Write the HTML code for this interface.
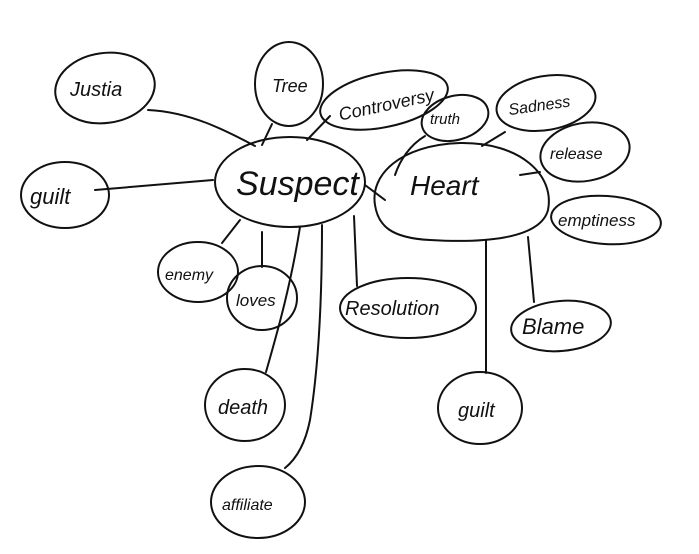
<!DOCTYPE html>
<html><head><style>
html,body{margin:0;padding:0;background:#fff;}
svg{display:block}
text{font-family:"Liberation Sans",sans-serif;fill:#111;font-style:italic}
</style></head><body>
<svg width="699" height="554" viewBox="0 0 699 554" xmlns="http://www.w3.org/2000/svg">
<g fill="none" stroke="#111" stroke-width="2" stroke-linecap="round">
<ellipse cx="105" cy="88" rx="50" ry="35" transform="rotate(-8 105 88)"/>
<ellipse cx="289" cy="84" rx="34" ry="42"/>
<ellipse cx="384" cy="100" rx="65" ry="27" transform="rotate(-12 384 100)"/>
<ellipse cx="455" cy="118" rx="34" ry="22" transform="rotate(-15 455 118)"/>
<ellipse cx="546" cy="103" rx="50" ry="27" transform="rotate(-10 546 103)"/>
<ellipse cx="290" cy="182" rx="75" ry="45"/>
<path d="M375 205 C370 175 400 145 460 143 C520 142 555 175 548 210 C540 240 480 243 430 240 C390 238 378 225 375 205 Z"/>
<ellipse cx="585" cy="152" rx="45" ry="29" transform="rotate(-10 585 152)"/>
<ellipse cx="606" cy="220" rx="55" ry="24" transform="rotate(4 606 220)"/>
<ellipse cx="65" cy="195" rx="44" ry="33"/>
<ellipse cx="198" cy="272" rx="40" ry="30"/>
<ellipse cx="262" cy="298" rx="35" ry="32"/>
<ellipse cx="408" cy="308" rx="68" ry="30"/>
<ellipse cx="561" cy="326" rx="50" ry="25" transform="rotate(-5 561 326)"/>
<ellipse cx="245" cy="405" rx="40" ry="36"/>
<ellipse cx="480" cy="408" rx="42" ry="36"/>
<ellipse cx="258" cy="502" rx="47" ry="36"/>
<path d="M148 110 C190 112 225 130 255 146"/>
<path d="M272 124 L262 145"/>
<path d="M330 116 L307 140"/>
<path d="M95 190 L213 180"/>
<path d="M222 243 L240 220"/>
<path d="M262 267 L262 232"/>
<path d="M300 227 C290 290 275 340 266 372"/>
<path d="M322 225 C322 300 318 370 310 420 C305 445 295 460 285 468"/>
<path d="M354 216 L357 286"/>
<path d="M365 185 L385 200"/>
<path d="M425 136 C410 145 400 160 395 175"/>
<path d="M505 132 L482 146"/>
<path d="M540 172 L520 175"/>
<path d="M486 240 L486 373"/>
<path d="M528 237 L534 302"/>
</g>
<text x="70" y="96" font-size="20">Justia</text>
<text x="272" y="92" font-size="18">Tree</text>
<text x="338" y="112" font-size="18" transform="rotate(-12 380 106)">Controversy</text>
<text x="430" y="124" font-size="15">truth</text>
<text x="508" y="110" font-size="16" transform="rotate(-8 545 104)">Sadness</text>
<text x="236" y="195" font-size="34">Suspect</text>
<text x="410" y="195" font-size="28">Heart</text>
<text x="550" y="159" font-size="16">release</text>
<text x="558" y="226" font-size="17">emptiness</text>
<text x="30" y="204" font-size="22">guilt</text>
<text x="165" y="280" font-size="16">enemy</text>
<text x="236" y="306" font-size="17">loves</text>
<text x="345" y="315" font-size="20">Resolution</text>
<text x="522" y="334" font-size="22">Blame</text>
<text x="218" y="414" font-size="20">death</text>
<text x="458" y="417" font-size="20">guilt</text>
<text x="222" y="510" font-size="16">affiliate</text>
</svg>
</body></html>
